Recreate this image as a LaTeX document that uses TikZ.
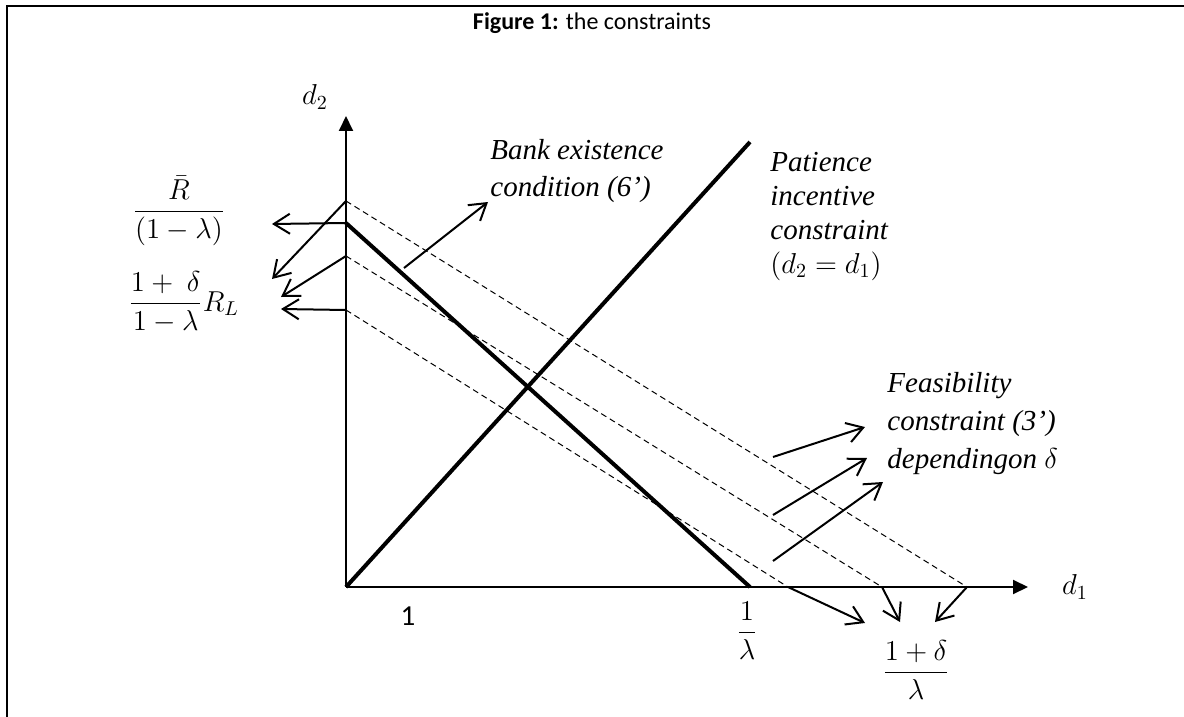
\documentclass[tikz,border=0pt]{standalone}
\usepackage{amsmath}
\usepackage{fontspec}
\setmainfont{Liberation Serif}
\newfontfamily\calibri{Carlito}
\usetikzlibrary{arrows.meta}
\tikzset{
  cn/frame/.style={line width=1pt},
  cn/axis/.style={line width=1pt, -{Triangle[length=7.5pt,width=7pt]}},
  cn/bold/.style={line width=2pt},
  cn/dash/.style={line width=0.5pt, dash pattern=on 3pt off 2pt},
  cn/arr/.style={line width=1pt, -{Straight Barb[length=8pt,width=10pt]}},
  cn/lbl/.style={font=\fontsize{14.5}{18.5}\selectfont\itshape,
    align=left, inner sep=0pt, anchor=north west},
  cn/math/.style={font=\fontsize{14.5}{18.5}\selectfont, inner sep=0pt},
  cn/title/.style={font=\calibri\fontsize{12}{14}\selectfont, inner sep=0pt}
}
\begin{document}
\begin{tikzpicture}[x=0.5pt, y=-0.5pt]
  \useasboundingbox (0,0) rectangle (1184,717);
  \draw[cn/frame] (7,717) -- (7,6) -- (1184,6);
  \node[cn/title] (title) at (592,23) {\textbf{Figure 1:} the constraints};

  \coordinate (O) at (346,587);
  \coordinate (ytop) at (346,116);
  \coordinate (xend) at (1028,587);
  \coordinate (yA) at (346,201);
  \coordinate (yB) at (346,223);
  \coordinate (yC) at (346,256);
  \coordinate (yD) at (346,310);
  \coordinate (xA) at (967,587);
  \coordinate (xB) at (750,587);
  \coordinate (xC) at (882,587);
  \coordinate (xD) at (788,587);
  \coordinate (pic) at (750,142);

  \draw[cn/dash] (yA) -- (xA);
  \draw[cn/dash] (yC) -- (xC);
  \draw[cn/dash] (yD) -- (xD);
  \draw[cn/bold] (yB) -- (xB);
  \draw[cn/bold] (O) -- (pic);
  \draw[cn/axis] (O) -- (ytop);
  \draw[cn/axis] (O) -- (xend);

  \node[cn/math] (d2) at (315,97) {$d_2$};
  \node[cn/math] (d1) at (1075,587) {$d_1$};
  \node[cn/math, font=\calibri\fontsize{14.5}{18.5}\selectfont] (one) at (408,616) {1};
  \node[cn/math, anchor=base] (invl) at (747,640) {$\dfrac{1}{\lambda}$};
  \node[cn/math, anchor=base] (dell) at (916,680) {$\dfrac{1+\delta}{\lambda}$};
  \node[cn/math, anchor=base] (rbar) at (179,219) {$\dfrac{\bar{R}}{(1-\lambda)}$};
  \node[cn/math, anchor=base west] (rl) at (128,311) {$\dfrac{1+\ \delta}{1-\lambda}R_L$};

  \node[cn/lbl] (bank) at (490,139) {Bank existence\\condition (6’)};
  \node[cn/lbl, font=\fontsize{14.5}{17}\selectfont\itshape] (pat) at (770,152)
        {Patience\\incentive\\constraint\\$(d_2=d_1)$};
  \node[cn/lbl, font=\fontsize{14.5}{19}\selectfont\itshape] (feas) at (887,372)
        {Feasibility\\constraint (3’)\\dependingon $\delta$};

  \coordinate (tR1) at (272,224);
  \coordinate (tR2) at (272,279);
  \coordinate (tR3) at (281,297);
  \coordinate (tR4) at (281,309);
  \draw[cn/arr] (yB) -- (tR1);
  \draw[cn/arr] (yA) -- (tR2);
  \draw[cn/arr] (yC) -- (tR3);
  \draw[cn/arr] (yD) -- (tR4);

  \coordinate (bS) at (404,268);
  \coordinate (bT) at (488,202);
  \draw[cn/arr] (bS) -- (bT);

  \coordinate (fS1) at (773,457);
  \coordinate (fT1) at (865,427);
  \coordinate (fS2) at (773,515);
  \coordinate (fT2) at (867,458);
  \coordinate (fS3) at (773,561);
  \coordinate (fT3) at (883,482);
  \draw[cn/arr] (fS1) -- (fT1);
  \draw[cn/arr] (fS2) -- (fT2);
  \draw[cn/arr] (fS3) -- (fT3);

  \coordinate (tB1) at (865,623);
  \coordinate (tB2) at (900,622);
  \coordinate (tB3) at (935,622);
  \draw[cn/arr] (xD) -- (tB1);
  \draw[cn/arr] (xC) -- (tB2);
  \draw[cn/arr] (xA) -- (tB3);
\end{tikzpicture}
\end{document}
